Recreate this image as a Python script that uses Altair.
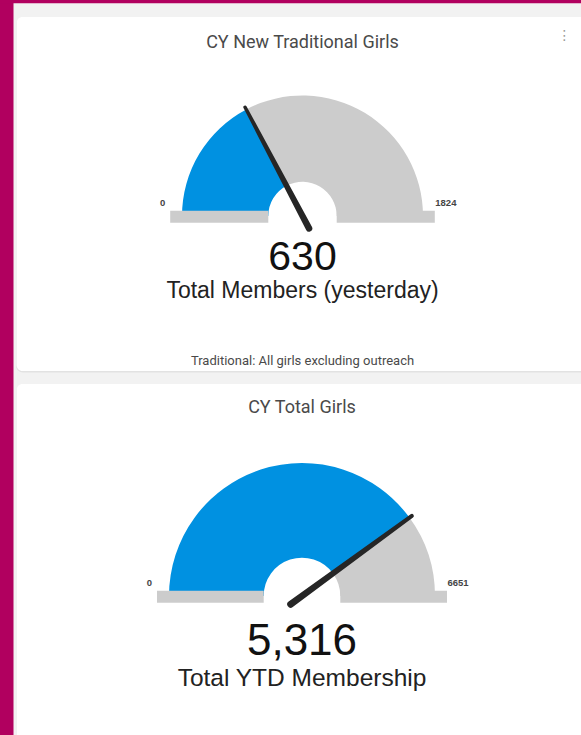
import math
import altair as alt
import pandas as pd

# ---------------- data ----------------
titles = ["CY New Traditional Girls", "CY Total Girls"]
values = [630, 5316]
minima = [0, 0]
maxima = [1824, 6651]
metric_labels = ["Total Members (yesterday)", "Total YTD Membership"]
footnotes = ["Traditional: All girls excluding outreach", ""]

# ---------------- styling / layout ----------------
W, H = 581, 735
BLUE = "#0091e1"
GRAY = "#cccccc"
NEEDLE = "#262626"
MAGENTA = "#b1005f"
PAGE = "#f2f2f2"

xs = alt.Scale(domain=[0, W], range=[0, W], nice=False, zero=False)
ys = alt.Scale(domain=[0, H], range=[0, H], nice=False, zero=False)
ts = alt.Scale(domain=[0, 1], range=[1.5 * math.pi, 2.5 * math.pi], nice=False, zero=False)

layout = [
    dict(cx=302.5, cy=216, r_out=120.5, r_in=34.2, bar_top=210.7, bar_h=12, bar_ext=11.8,
         needle_len=123, tail=14, w_tail=6.5, w_tip=3.5,
         title_y=47.5, num_y=270, num_size=41,
         metric_y=298.3, metric_size=23, foot_y=365, lab_size=9.5),
    dict(cx=302, cy=596, r_out=133, r_in=38.3, bar_top=590.7, bar_h=12, bar_ext=12,
         needle_len=136, tail=14, w_tail=7, w_tip=4,
         title_y=412.5, num_y=655, num_size=44,
         metric_y=686, metric_size=24.5, foot_y=None, lab_size=9.5),
]


def value_rect(x, x2, y, y2, color, radius=0):
    return alt.Chart(alt.Data(values=[{}])).mark_rect(
        color=color, cornerRadius=radius
    ).encode(x=alt.value(x), x2=alt.value(x2), y=alt.value(y), y2=alt.value(y2))


layers = []

# page chrome
layers.append(value_rect(0, 13.5, 0, H + 5, MAGENTA))
layers.append(value_rect(0, W + 5, 0, 3.3, MAGENTA))
# cards (shadow + white)
for (y0, y1) in [(17, 371), (384, H + 30)]:
    layers.append(value_rect(16, W + 30, y0 + 0.5, y1 + 1.5, "#e2e2e2", 7))
    layers.append(value_rect(16.5, W + 30, y0, y1, "#ffffff", 6))

# menu dots
layers.append(
    alt.Chart(alt.Data(values=[{"t": "⋮"}])).mark_text(
        font="DejaVu Sans", fontSize=14, color="#9a9a9a", align="center", baseline="middle"
    ).encode(x=alt.value(564.5), y=alt.value(36), text="t:N")
)

for i, L in enumerate(layout):
    cx, cy = L["cx"], L["cy"]
    info = pd.DataFrame({
        "title": [titles[i]], "value": [values[i]], "min": [minima[i]],
        "max": [maxima[i]], "metric": [metric_labels[i]], "foot": [footnotes[i]],
    })
    seg = pd.DataFrame({
        "seg": ["value", "rest"],
        "start": [minima[i], values[i]],
        "end": [values[i], maxima[i]],
        "max": [maxima[i], maxima[i]],
    })

    # gauge arcs
    layers.append(
        alt.Chart(seg).transform_calculate(
            fs="datum.start / datum.max", fe="datum.end / datum.max"
        ).mark_arc().encode(
            x=alt.value(cx), y=alt.value(cy),
            theta=alt.Theta("fs:Q", scale=ts), theta2="fe:Q",
            radius=alt.value(L["r_out"]), radius2=alt.value(L["r_in"]),
            color=alt.Color("seg:N", scale=alt.Scale(domain=["value", "rest"], range=[BLUE, GRAY]), legend=None),
        )
    )

    # base bar (two pieces around the hole)
    bl = cx - L["r_out"] - L["bar_ext"]
    br = cx + L["r_out"] + L["bar_ext"]
    bt, bb = L["bar_top"], L["bar_top"] + L["bar_h"]
    layers.append(value_rect(bl, cx - L["r_in"], bt, bb, GRAY))
    layers.append(value_rect(cx + L["r_in"], br, bt, bb, GRAY))

    # needle
    nd = pd.DataFrame({
        "value": [values[i]] * 2, "max": [maxima[i]] * 2,
        "len": [-L["tail"], L["needle_len"]], "w": [L["w_tail"], L["w_tip"]],
    })
    layers.append(
        alt.Chart(nd).transform_calculate(
            phi="PI * (1 - datum.value / datum.max)"
        ).transform_calculate(
            px=f"{cx} + datum.len * cos(datum.phi)",
            py=f"{cy} - datum.len * sin(datum.phi)",
        ).mark_trail(color=NEEDLE).encode(
            x=alt.X("px:Q", scale=xs, axis=None),
            y=alt.Y("py:Q", scale=ys, axis=None),
            size=alt.Size("w:Q", scale=None, legend=None),
            order="len:Q",
        )
    )

    # min / max labels
    lab_y = bt - 5
    layers.append(
        alt.Chart(info).mark_text(
            font="Liberation Sans", fontWeight="bold", fontSize=L["lab_size"],
            color="#444444", align="right", baseline="alphabetic"
        ).encode(x=alt.value(bl - 5), y=alt.value(lab_y), text=alt.Text("min:Q", format="d"))
    )
    layers.append(
        alt.Chart(info).mark_text(
            font="Liberation Sans", fontWeight="bold", fontSize=L["lab_size"],
            color="#444444", align="left", baseline="alphabetic"
        ).encode(x=alt.value(br + 0.5), y=alt.value(lab_y), text=alt.Text("max:Q", format="d"))
    )

    # title
    layers.append(
        alt.Chart(info).mark_text(
            font="Roboto", fontSize=18, color="#4a4a4a", align="center", baseline="alphabetic"
        ).encode(x=alt.value(cx), y=alt.value(L["title_y"]), text="title:N")
    )
    # big number
    layers.append(
        alt.Chart(info).mark_text(
            font="Liberation Sans", fontSize=L["num_size"], color="#111111",
            align="center", baseline="alphabetic"
        ).encode(x=alt.value(cx), y=alt.value(L["num_y"]), text=alt.Text("value:Q", format=","))
    )
    # metric label
    layers.append(
        alt.Chart(info).mark_text(
            font="Liberation Sans", fontSize=L["metric_size"], color="#222222",
            align="center", baseline="alphabetic"
        ).encode(x=alt.value(cx), y=alt.value(L["metric_y"]), text="metric:N")
    )
    # footnote
    if footnotes[i]:
        layers.append(
            alt.Chart(info).mark_text(
                font="Roboto", fontSize=13, color="#4a4a4a", align="center", baseline="alphabetic"
            ).encode(x=alt.value(cx), y=alt.value(L["foot_y"]), text="foot:N")
        )

chart = alt.layer(*layers).properties(
    width=W, height=H, padding=0, autosize=alt.AutoSizeParams(type="none"),
    background=PAGE,
).configure_view(stroke=None)

chart.save("out.html", embed_options={"renderer": "svg", "actions": False})
